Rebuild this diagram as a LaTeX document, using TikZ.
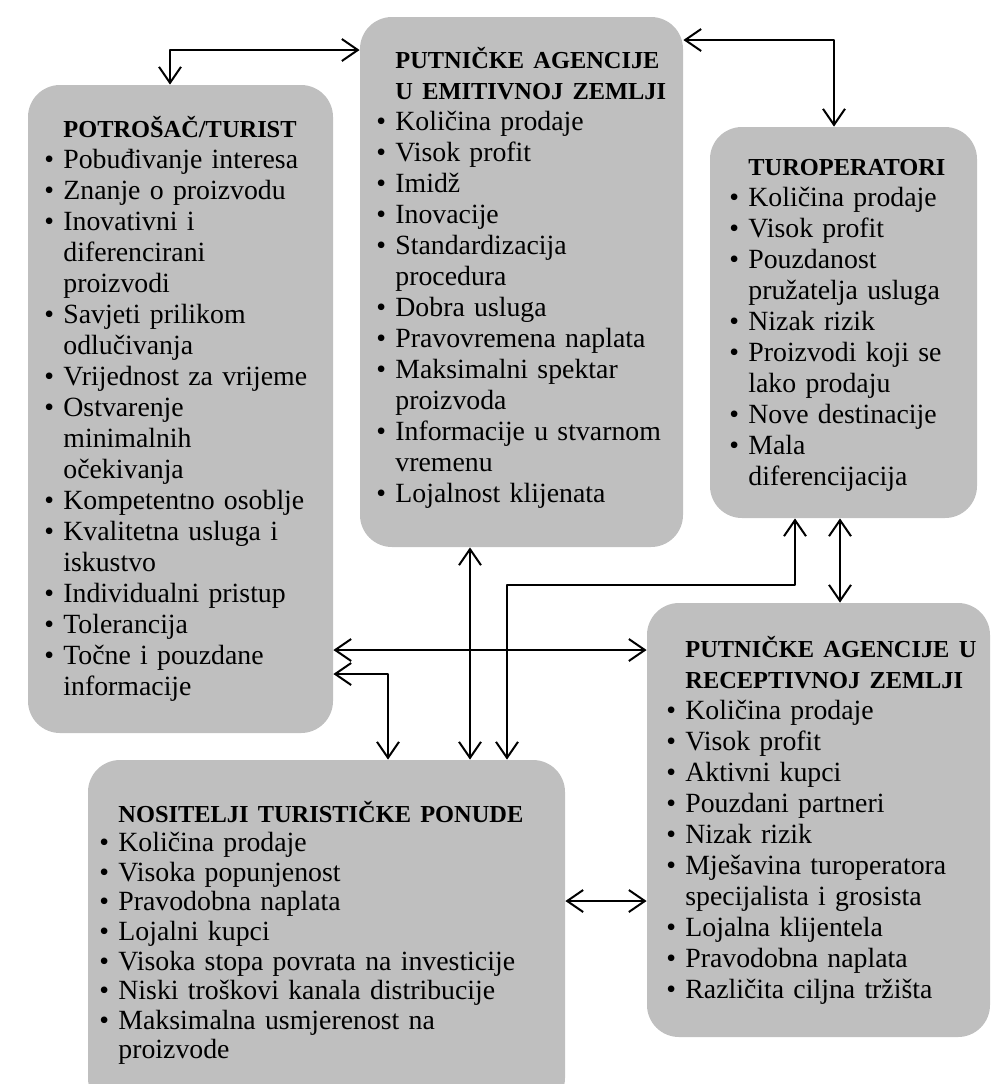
\documentclass[tikz,border=0pt]{standalone}
\usepackage{fontspec}
\setmainfont{Liberation Serif}
\usetikzlibrary{arrows.meta,fit}

\begin{document}
\begin{tikzpicture}[x=0.5pt, y=-0.5pt, line join=round, >={Straight Barb[length=8pt,width=11pt]},
    kutija/.style={fill=black!25, rounded corners=16pt, inner sep=0pt},
    tekst/.style={anchor=base west, inner sep=0pt, align=left, text width=#1, font=\fontsize{13.9}{15.5}\selectfont},
    veza/.style={<->, line width=1pt}]
    \newcommand{\naslov}[1]{{\hangindent=9.5pt\hangafter=0\noindent\bfseries\fontsize{12.2}{\the\baselineskip}\selectfont #1\par}}
    \newcommand{\stavka}[1]{{\hangindent=9.5pt\hangafter=1\noindent\makebox[9.5pt][l]{\textbullet}#1\par}}
    \useasboundingbox (0,0) rectangle (1000,1084);
    \clip (0,0) rectangle (1000,1084);
    % ============= KUTIJE
    \node[kutija, fit={(28,85) (333,733)}] (pot) {};
    \node[kutija, fit={(360,17) (683,547)}] (emi) {};
    \node[kutija, fit={(710,127) (977,518)}] (turo) {};
    \node[kutija, fit={(647,603) (990,1037)}] (rec) {};
    \node[kutija, fit={(88,760) (565,1110)}] (nos) {};
    % ============= TEKSTOVI
    \node[tekst=137pt] (pottxt) at (44,137) {\naslov{POTROŠAČ/TURIST}
        \stavka{Pobuđivanje interesa}
        \stavka{Znanje o proizvodu}
        \stavka{Inovativni i\newline diferencirani\newline proizvodi}
        \stavka{Savjeti prilikom\newline odlučivanja}
        \stavka{Vrijednost za vrijeme}
        \stavka{Ostvarenje\newline minimalnih\newline očekivanja}
        \stavka{Kompetentno osoblje}
        \stavka{Kvalitetna usluga i\newline iskustvo}
        \stavka{Individualni pristup}
        \stavka{Tolerancija}
        \stavka{Točne i pouzdane\newline informacije}};
    \node[tekst=150pt] (emitxt) at (376,68) {\naslov{PUTNIČKE AGENCIJE\newline U EMITIVNOJ ZEMLJI}
        \stavka{Količina prodaje}
        \stavka{Visok profit}
        \stavka{Imidž}
        \stavka{Inovacije}
        \stavka{Standardizacija\newline procedura}
        \stavka{Dobra usluga}
        \stavka{Pravovremena naplata}
        \stavka{Maksimalni spektar\newline proizvoda}
        \stavka{Informacije u stvarnom\newline vremenu}
        \stavka{Lojalnost klijenata}};
    \node[tekst=120pt] (turotxt) at (729,175) {\naslov{TUROPERATORI}
        \stavka{Količina prodaje}
        \stavka{Visok profit}
        \stavka{Pouzdanost\newline pružatelja usluga}
        \stavka{Nizak rizik}
        \stavka{Proizvodi koji se\newline lako prodaju}
        \stavka{Nove destinacije}
        \stavka{Mala\newline diferencijacija}};
    \node[tekst=157pt] (rectxt) at (666,657) {\naslov{PUTNIČKE AGENCIJE U\newline RECEPTIVNOJ ZEMLJI}
        \stavka{Količina prodaje}
        \stavka{Visok profit}
        \stavka{Aktivni kupci}
        \stavka{Pouzdani partneri}
        \stavka{Nizak rizik}
        \stavka{Mješavina turoperatora\newline specijalista i grosista}
        \stavka{Lojalna klijentela}
        \stavka{Pravodobna naplata}
        \stavka{Različita ciljna tržišta}};
    \node[tekst=225pt, font=\fontsize{13.9}{14.8}\selectfont] (nostxt) at (99,822) {\naslov{NOSITELJI TURISTIČKE PONUDE}
        \stavka{Količina prodaje}
        \stavka{Visoka popunjenost}
        \stavka{Pravodobna naplata}
        \stavka{Lojalni kupci}
        \stavka{Visoka stopa povrata na investicije}
        \stavka{Niski troškovi kanala distribucije}
        \stavka{Maksimalna usmjerenost na\newline proizvode}};
    % ============= VEZE
    \coordinate (kA) at (170,50);
    \coordinate (kB) at (834,40);
    \coordinate (kC) at (470,0);
    \coordinate (kD) at (0,650);
    \coordinate (kE) at (388,674);
    \coordinate (kF) at (507,585);
    \coordinate (kF2) at (795,585);
    \coordinate (kG) at (840,0);
    \coordinate (kH) at (0,901);
    \draw[veza] (pot.north -| kA) |- (emi.west |- kA);
    \draw[veza] (emi.east |- kB) -| (turo.north -| kB);
    \draw[veza] (emi.south -| kC) -- (nos.north -| kC);
    \draw[veza] (pot.east |- kD) -- (rec.west |- kD);
    \draw[veza] (pot.east |- kE) -| (nos.north -| kE);
    \draw[veza] (turo.south -| kF2) -- (kF2) -| (nos.north -| kF);
    \draw[veza] (turo.south -| kG) -- (rec.north -| kG);
    \draw[veza] (nos.east |- kH) -- (rec.west |- kH);
\end{tikzpicture}
\end{document}
